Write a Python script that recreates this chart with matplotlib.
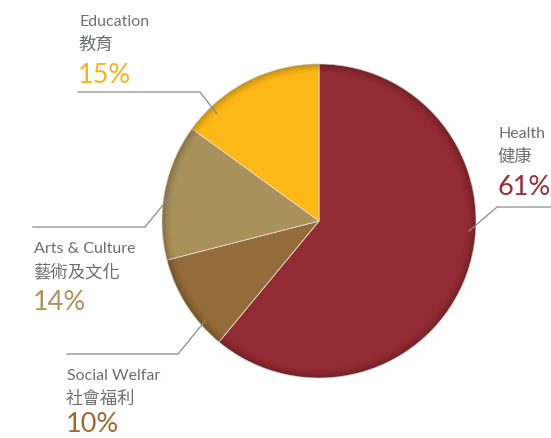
import matplotlib
matplotlib.use("Agg")
import matplotlib.pyplot as plt
from matplotlib.patches import Wedge
from matplotlib.transforms import Bbox, TransformedBbox

# Donation breakdown
categories_en = ["Health", "Social Welfare", "Arts & Culture", "Education"]
categories_zh = ["健康", "社會福利", "藝術及文化", "教育"]
shares = [61, 10, 14, 15]
slice_colors = ["#932b34", "#946b3a", "#aa915b", "#fbb817"]
pct_colors = ["#9b2b35", "#9c6a33", "#ac925d", "#f7b21e"]

W, H = 551, 439
fig = plt.figure(figsize=(W / 100, H / 100), dpi=100)
ax = fig.add_axes([0, 0, 1, 1])

cx, cy, R = 319, H - 222, 157
ax.pie(shares, colors=slice_colors, startangle=90, counterclock=False,
       center=(cx, cy), radius=R, frame=True,
       wedgeprops=dict(edgecolor="#e8dcc8", linewidth=0.6))
ax.set_xlim(0, W)
ax.set_ylim(0, H)
ax.set_aspect("equal")
ax.axis("off")

# soft darkening toward the rim
n = 14
for i in range(n):
    r_out = R - i * 0.7
    ax.add_patch(Wedge((cx, cy), r_out, 0, 360, width=0.7,
                       facecolor="black", edgecolor="none",
                       alpha=0.22 * (1 - i / n) ** 1.6, zorder=3))

line_kw = dict(color="#8a8a8a", linewidth=0.9, zorder=4)


def yy(v):
    return H - v


# leader lines (pixel coordinates from the top-left)
leaders = {
    "Health": [(469, 232), (497, 208), (551, 208)],
    "Social Welfare": [(205, 322), (178, 355), (67, 355)],
    "Arts & Culture": [(172, 195), (145, 228), (33, 228)],
    "Education": [(217, 115), (200, 93), (78, 93)],
}
for pts in leaders.values():
    ax.plot([p[0] for p in pts], [yy(p[1]) for p in pts], **line_kw)

# left edge and baseline of the English name
label_pos = {
    "Health": (498, 138),
    "Social Welfare": (67, 380),
    "Arts & Culture": (34, 253),
    "Education": (79, 26),
}
latin = ["Lato", "DejaVu Sans"]
cjk = ["Noto Sans CJK TC", "DejaVu Sans"]
grey = "#6d6e71"

for en, zh, s, pc in zip(categories_en, categories_zh, shares, pct_colors):
    x, b = label_pos[en]
    t1 = ax.text(x, yy(b), en, family=latin, fontsize=11.5, color=grey,
                 ha="left", va="baseline", zorder=5)
    ax.text(x - 1, yy(b + 24), zh, family=cjk, fontsize=12.5, color=grey,
            ha="left", va="baseline", zorder=5)
    ax.text(x - 1, yy(min(b + 57, 432)), f"{s}%", family=latin, fontsize=19.5,
            color=pc, ha="left", va="baseline", zorder=5)
    if en == "Social Welfare":
        t1.set_clip_on(True)
        t1.set_clip_box(TransformedBbox(Bbox([[0, 0], [161, H]]), ax.transData))

fig.savefig("out.png", dpi=100, facecolor="white")
